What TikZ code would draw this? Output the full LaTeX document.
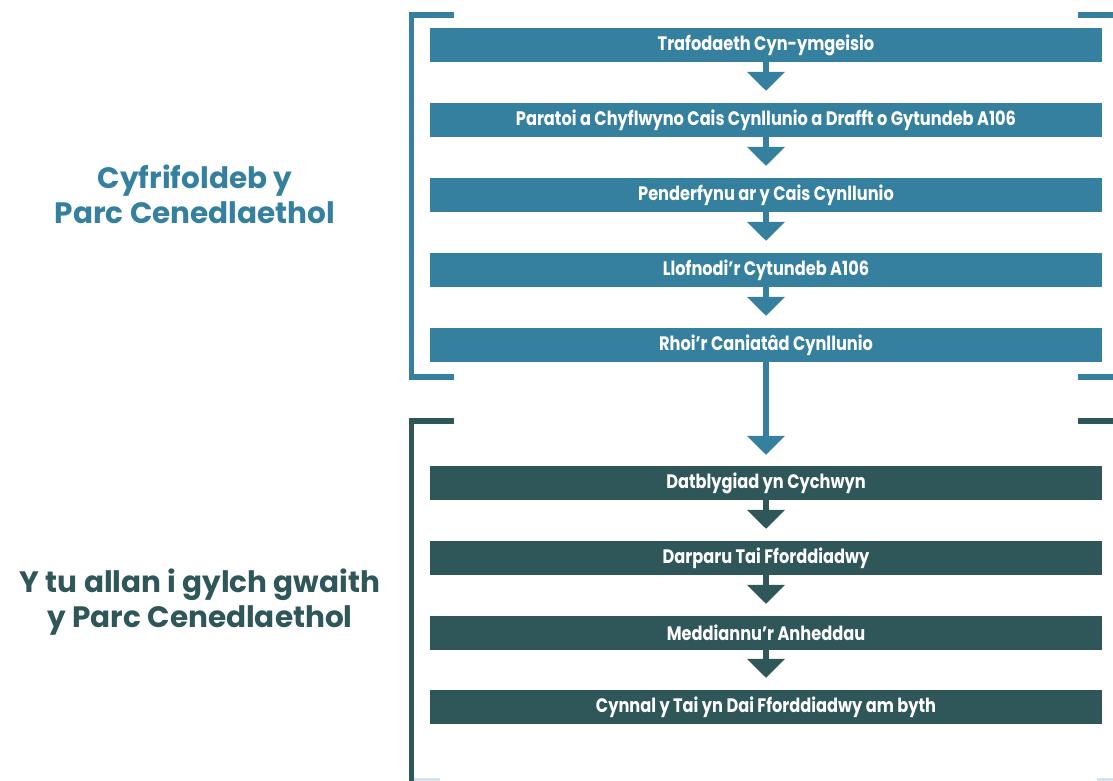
\documentclass[tikz,border=0pt]{standalone}
\usepackage{fontspec}
\setmainfont{Poppins}[FakeStretch=0.83]
\newfontfamily\labelfont{Poppins}
\usetikzlibrary{arrows.meta}

\definecolor{parcblue}{HTML}{35809E}
\definecolor{parcdark}{HTML}{2F5759}
\definecolor{parcfaint}{HTML}{D3E3E8}

\tikzset{
    stepbox/.style={rectangle, minimum width=672pt, minimum height=34pt, inner sep=0pt,
                    text=white, font=\fontsize{19.5}{21}\selectfont\bfseries},
    flow/.style={line width=6pt, shorten >=12pt,
                 -{Triangle[width=37pt, length=19pt]}},
    bracket/.style={line width=5.5pt},
    sidelabel/.style={align=center, font=\fontsize{29.5}{35}\selectfont\labelfont\bfseries}
}

\begin{document}
\begin{tikzpicture}[x=1pt, y=-1pt]
    \useasboundingbox (0,0) rectangle (1113,781);

    % ----------------------------------------------------
    % Cyfrifoldeb y Parc
    % ----------------------------------------------------
    \begin{scope}[every node/.append style={stepbox, fill=parcblue}]
        \node (trafod)   at (766,45)  {Trafodaeth Cyn-ymgeisio};
        \node (paratoi)  at (766,120) {Paratoi a Chyflwyno Cais Cynllunio a Drafft o Gytundeb A106};
        \node (penderf)  at (766,195) {Penderfynu ar y Cais Cynllunio};
        \node (llofnodi) at (766,270) {Llofnodi'r Cytundeb A106};
        \node (rhoi)     at (766,345) {Rhoi'r Caniatâd Cynllunio};
    \end{scope}

    \draw[flow, parcblue] (trafod) -- (paratoi);
    \draw[flow, parcblue] (paratoi) -- (penderf);
    \draw[flow, parcblue] (penderf) -- (llofnodi);
    \draw[flow, parcblue] (llofnodi) -- (rhoi);

    \draw[bracket, parcblue] (454,15) -- (411.5,15) -- (411.5,377) -- (454,377);
    \draw[bracket, parcblue] (1078,15) -- (1113,15);
    \draw[bracket, parcblue] (1078,377) -- (1113,377);

    \node[sidelabel, text=parcblue] (labelparc) at (195,194)
        {Cyfrifoldeb y\\Parc Cenedlaethol};

    % ----------------------------------------------------
    % Y tu allan i gylch gwaith
    % ----------------------------------------------------
    \begin{scope}[every node/.append style={stepbox, fill=parcdark}]
        \node (datblyg)  at (766,483) {Datblygiad yn Cychwyn};
        \node (darparu)  at (766,558) {Darparu Tai Fforddiadwy};
        \node (meddiann) at (766,633) {Meddiannu'r Anheddau};
        \node (cynnal)   at (766,707) {Cynnal y Tai yn Dai Fforddiadwy am byth};
    \end{scope}

    \draw[flow, parcblue, shorten >=11pt] (rhoi) -- (datblyg);
    \draw[flow, parcdark] (datblyg) -- (darparu);
    \draw[flow, parcdark] (darparu) -- (meddiann);
    \draw[flow, parcdark] (meddiann) -- (cynnal);

    \draw[bracket, parcdark] (454,421) -- (411.5,421) -- (411.5,781);
    \draw[bracket, parcdark] (1078,421) -- (1113,421);
    \draw[line width=3pt, parcfaint] (414,779.5) -- (440,779.5);
    \draw[line width=3pt, parcfaint] (1097,779.5) -- (1113,779.5);

    \node[sidelabel, text=parcdark] (labelallan) at (200,602)
        {Y tu allan i gylch gwaith\\y Parc Cenedlaethol};

\end{tikzpicture}
\end{document}
